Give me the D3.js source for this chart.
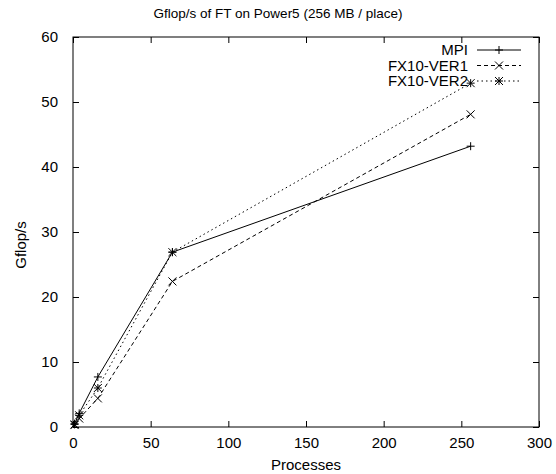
<!DOCTYPE html>
<html>
<head>
<meta charset="utf-8">
<script src="https://cdn.jsdelivr.net/npm/d3@7"></script>
<style>
  body { margin: 0; background: #fff; }
  text { font-family: "Liberation Sans", Arial, sans-serif; font-size: 15px; fill: #000; }
</style>
</head>
<body>
<div id="chart"></div>
<script>
// data
var processes = [1, 4, 16, 64, 256];
var seriesNames = ["MPI", "FX10-VER1", "FX10-VER2"];
var mpi  = [0.5, 2.1, 7.7, 26.9, 43.2];
var ver1 = [0.3, 1.3, 4.4, 22.4, 48.1];
var ver2 = [0.4, 1.8, 6.0, 26.9, 52.9];
var xTicks = [0, 50, 100, 150, 200, 250, 300];
var yTicks = [0, 10, 20, 30, 40, 50, 60];

var margin = {top: 37, right: 17, bottom: 47, left: 73},
    width = 556 - margin.left - margin.right,
    height = 474 - margin.top - margin.bottom;

var svg = d3.select("#chart")
  .append("svg")
    .attr("width", 556)
    .attr("height", 474);

var g = svg.append("g")
    .attr("transform", "translate(" + margin.left + "," + margin.top + ")");

var x = d3.scaleLinear().domain([0, 300]).range([0, width]);
var y = d3.scaleLinear().domain([0, 60]).range([height, 0]);

// ticks inward on all four sides, like gnuplot
var tl = 6;
g.append("g")
  .attr("transform", "translate(0," + height + ")")
  .call(d3.axisBottom(x).tickValues(xTicks).tickSize(-tl).tickPadding(tl + 4))
  .call(function(a) { a.select(".domain").remove(); });
g.append("g")
  .call(d3.axisTop(x).tickValues(xTicks).tickSize(-tl).tickFormat(""))
  .call(function(a) { a.select(".domain").remove(); });
g.append("g")
  .call(d3.axisLeft(y).tickValues(yTicks).tickSize(-tl).tickPadding(tl + 9))
  .call(function(a) { a.select(".domain").remove(); });
g.append("g")
  .attr("transform", "translate(" + width + ",0)")
  .call(d3.axisRight(y).tickValues(yTicks).tickSize(-tl).tickFormat(""))
  .call(function(a) { a.select(".domain").remove(); });

g.selectAll(".tick line").attr("stroke", "#000");
g.selectAll(".tick text").style("font-size", "15px").style("font-family", "Liberation Sans, Arial, sans-serif");

// frame
g.append("rect")
  .attr("width", width)
  .attr("height", height)
  .attr("fill", "none")
  .attr("stroke", "#000");

// titles
svg.append("text")
  .attr("x", 278).attr("y", 18)
  .attr("text-anchor", "middle")
  .style("font-size", "13.5px")
  .text("Gflop/s of FT on Power5 (256 MB / place)");
svg.append("text")
  .attr("x", margin.left + width / 2).attr("y", 470)
  .attr("text-anchor", "middle")
  .text("Processes");
svg.append("text")
  .attr("transform", "translate(26,245)rotate(-90)")
  .attr("text-anchor", "middle")
  .text("Gflop/s");

// point shapes
function drawPoint(sel, kind, cx, cy) {
  var s = 4;
  var p = sel.append("path")
    .attr("stroke", "#000").attr("fill", "none").attr("stroke-width", 1);
  var d = "";
  if (kind === "plus" || kind === "star")
    d += "M" + (cx - s) + "," + cy + "H" + (cx + s) + "M" + cx + "," + (cy - s) + "V" + (cy + s);
  if (kind === "cross" || kind === "star")
    d += "M" + (cx - s) + "," + (cy - s) + "L" + (cx + s) + "," + (cy + s) +
         "M" + (cx - s) + "," + (cy + s) + "L" + (cx + s) + "," + (cy - s);
  p.attr("d", d);
}

var series = [
  {name: seriesNames[0], values: mpi,  dash: null,  point: "plus"},
  {name: seriesNames[1], values: ver1, dash: "4,3", point: "cross"},
  {name: seriesNames[2], values: ver2, dash: "1.5,3", point: "star"}
];

var line = d3.line()
  .x(function(d) { return x(d[0]); })
  .y(function(d) { return y(d[1]); });

series.forEach(function(s) {
  var pts = processes.map(function(p, i) { return [p, s.values[i]]; });
  g.append("path")
    .datum(pts)
    .attr("d", line)
    .attr("fill", "none")
    .attr("stroke", "#000")
    .attr("stroke-width", 1)
    .attr("stroke-dasharray", s.dash);
  pts.forEach(function(d) { drawPoint(g, s.point, x(d[0]), y(d[1])); });
});

// legend
var legX = 468, legY = 50, legStep = 15.5;
series.forEach(function(s, i) {
  var ly = legY + i * legStep;
  svg.append("text")
    .attr("x", legX).attr("y", ly)
    .attr("dy", "0.35em")
    .attr("text-anchor", "end")
    .text(s.name);
  svg.append("line")
    .attr("x1", legX + 9).attr("x2", legX + 53)
    .attr("y1", ly).attr("y2", ly)
    .attr("stroke", "#000")
    .attr("stroke-dasharray", s.dash);
  drawPoint(svg, s.point, legX + 31, ly);
});
</script>
</body>
</html>
